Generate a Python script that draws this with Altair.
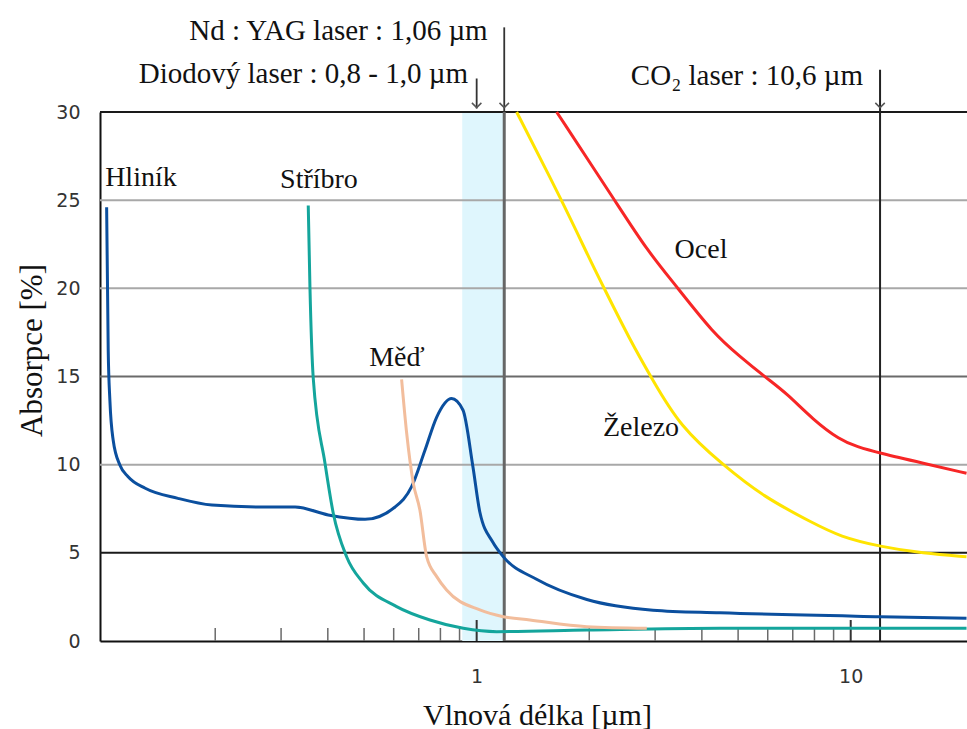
import altair as alt
import pandas as pd

# ---------------- data ----------------
hlinik_x = [0.1025, 0.1035, 0.1046, 0.1067, 0.1112, 0.117, 0.130, 0.159, 0.196, 0.266, 0.327,
            0.401, 0.503, 0.605, 0.670, 0.727, 0.782, 0.857, 0.919, 0.977, 1.02, 1.105,
            1.176, 1.446, 1.97, 2.96, 4.47, 11.98, 20.4]
hlinik_y = [24.6, 16.5, 13.6, 11.4, 9.98, 9.32, 8.66, 8.09, 7.71, 7.6, 7.6,
            7.15, 6.9, 7.6, 8.75, 10.8, 12.7, 13.75, 13.1, 9.9, 7.3, 5.6,
            4.8, 3.5, 2.35, 1.75, 1.6, 1.38, 1.29]

stribro_x = [0.3546, 0.3583, 0.3657, 0.393, 0.4135, 0.449, 0.4975, 0.611, 0.750, 0.921,
             1.131, 1.97, 4.47, 20.4]
stribro_y = [24.7, 20.1, 14.9, 10.1, 7.26, 4.78, 3.29, 1.95, 1.19, 0.72,
             0.53, 0.62, 0.72, 0.72]

med_x = [0.630, 0.650, 0.677, 0.705, 0.735, 0.782, 0.831, 1.02, 1.178, 1.388, 1.97, 2.85]
med_y = [14.84, 11.78, 8.95, 7.43, 4.78, 3.65, 2.89, 1.76, 1.38, 1.19, 0.81, 0.72]

zelezo_x = [1.279, 1.704, 2.009, 2.18, 2.57, 2.937, 3.497, 4.56, 5.84, 7.94, 9.36, 11.98, 15.63, 20.4]
zelezo_y = [30.0, 24.83, 21.61, 20.1, 17.07, 14.9, 12.16, 9.98, 8.18, 6.68, 5.92, 5.35, 4.97, 4.78]

ocel_x = [1.636, 2.367, 2.848, 3.426, 4.29, 5.06, 5.96, 6.74, 7.94, 9.36, 10.38, 11.98, 15.63, 20.4]
ocel_y = [30.0, 24.83, 22.18, 20.1, 17.45, 16.13, 14.9, 14.05, 12.54, 11.4, 11.02, 10.65, 10.08, 9.51]

series_names = ["Hliník", "Stříbro", "Měď", "Železo", "Ocel"]
series_colors = ["#0b4f9e", "#14a59c", "#f2bd9c", "#ffe400", "#f72626"]

label_x = [0.1266, 0.3788, 0.612, 2.75, 3.98]
label_y = [26.26, 26.15, 16.05, 12.08, 22.18]

minor_ticks = [0.2, 0.3, 0.4, 0.5, 0.6, 0.7, 0.8, 0.9, 2, 3, 4, 5, 6, 7, 8, 9]
major_ticks = [1, 10]

grid_dark = [5, 30]
grid_mid = [15]
grid_light = [10, 20, 25]

band_from, band_to = 0.915, 1.18          # shaded diode-laser band
yag_x, co2_x, diode_x = 1.185, 11.98, 1.0  # laser marker lines
yag_top, co2_top, diode_top = 34.8, 32.4, 31.9

laser_texts = ["Nd : YAG laser : 1,06 µm", "Diodový laser : 0,8 - 1,0 µm", "CO₂ laser : 10,6 µm"]
laser_text_x = [1.07, 0.948, 10.79]
laser_text_y = [34.6, 32.16, 32.05]

# ---------------- build ----------------
W, H = 867, 529
xs = alt.Scale(type="log", domain=[0.0984, 20.46], nice=False)
ys = alt.Scale(domain=[0, 30], nice=False, zero=True)

x_axis = alt.Axis(values=major_ticks, format="~g", grid=False, ticks=False, tickSize=0,
                  domainColor="#111", domainWidth=2, labelFont="DejaVu Sans",
                  labelFontSize=19, labelColor="#333", labelPadding=26,
                  title="Vlnová délka [µm]", titleFont="Liberation Serif", titleFontSize=30,
                  titleFontWeight="normal", titleColor="#111", titleX=437, titleY=74,
                  titleAlign="center", titleBaseline="middle")
y_axis = alt.Axis(values=[0, 5, 10, 15, 20, 25, 30], grid=False, ticks=False, tickSize=0,
                  domainColor="#111", domainWidth=2, labelFont="DejaVu Sans",
                  labelFontSize=19, labelColor="#333", labelPadding=20,
                  title="Absorpce [%]", titleFont="Liberation Serif", titleFontSize=31,
                  titleFontWeight="normal", titleColor="#111", titleX=-68, titleY=238,
                  titleAngle=270, titleAlign="center", titleBaseline="middle")


def frame(name, xv, yv):
    return pd.DataFrame({"kov": name, "x": xv, "y": yv, "i": range(len(xv))})


sharp_df = pd.concat([frame("Hliník", hlinik_x, hlinik_y), frame("Stříbro", stribro_x, stribro_y),
                      frame("Měď", med_x, med_y)])
smooth_df = pd.concat([frame("Železo", zelezo_x, zelezo_y), frame("Ocel", ocel_x, ocel_y)])

color_enc = alt.Color("kov:N", scale=alt.Scale(domain=series_names, range=series_colors), legend=None)

band = alt.Chart(pd.DataFrame({"x": [band_from], "x2": [band_to], "y": [0], "y2": [30]})).mark_rect(
    color="#dff6fd").encode(
    x=alt.X("x:Q", scale=xs, axis=x_axis), x2="x2:Q",
    y=alt.Y("y:Q", scale=ys, axis=y_axis), y2="y2:Q")


def grid(vals, color, w):
    return alt.Chart(pd.DataFrame({"y": vals})).mark_rule(color=color, strokeWidth=w).encode(
        y=alt.Y("y:Q", scale=ys, axis=y_axis))


grids = [grid(grid_light, "#a8a8a8", 2), grid(grid_mid, "#6a6a6a", 2), grid(grid_dark, "#1a1a1a", 2)]

minor = alt.Chart(pd.DataFrame({"x": minor_ticks})).mark_rule(color="#6a6a6a", strokeWidth=1.5).encode(
    x=alt.X("x:Q", scale=xs, axis=x_axis), y=alt.value(H), y2=alt.value(H - 13))
major = alt.Chart(pd.DataFrame({"x": major_ticks})).mark_rule(color="#333", strokeWidth=2).encode(
    x=alt.X("x:Q", scale=xs, axis=x_axis), y=alt.value(H), y2=alt.value(H - 21))

vlines = alt.Chart(pd.DataFrame({"x": [yag_x], "y": [0], "y2": [30]})).mark_rule(
    color="#666", strokeWidth=3).encode(
    x=alt.X("x:Q", scale=xs, axis=x_axis), y=alt.Y("y:Q", scale=ys, axis=y_axis), y2="y2:Q")
co2line = alt.Chart(pd.DataFrame({"x": [co2_x], "y": [0], "y2": [co2_top]})).mark_rule(
    color="#222", strokeWidth=2).encode(
    x=alt.X("x:Q", scale=xs, axis=x_axis), y=alt.Y("y:Q", scale=ys, axis=y_axis), y2="y2:Q")
upper = alt.Chart(pd.DataFrame({"x": [yag_x, diode_x], "y": [30, 30.2], "y2": [yag_top, diode_top]})).mark_rule(
    color="#333", strokeWidth=1.8).encode(
    x=alt.X("x:Q", scale=xs, axis=x_axis), y=alt.Y("y:Q", scale=ys, axis=y_axis), y2="y2:Q")
heads = alt.Chart(pd.DataFrame({"x": [diode_x, yag_x, co2_x], "y": [30.25, 30.25, 30.25]})).mark_point(
    shape="M-1,-1L0,0L1,-1", filled=False, size=90, strokeWidth=1.5, color="#555", opacity=1).encode(
    x=alt.X("x:Q", scale=xs, axis=x_axis), y=alt.Y("y:Q", scale=ys, axis=y_axis))

curves_sharp = alt.Chart(sharp_df).mark_line(strokeWidth=3, interpolate="monotone").encode(
    x=alt.X("x:Q", scale=xs, axis=x_axis), y=alt.Y("y:Q", scale=ys, axis=y_axis),
    color=color_enc, order="i:Q")
curves_smooth = alt.Chart(smooth_df).mark_line(strokeWidth=3, interpolate="basis").encode(
    x=alt.X("x:Q", scale=xs, axis=x_axis), y=alt.Y("y:Q", scale=ys, axis=y_axis),
    color=color_enc, order="i:Q")

labels = alt.Chart(pd.DataFrame({"t": series_names, "x": label_x, "y": label_y})).mark_text(
    font="Liberation Serif", fontSize=28, color="#111", align="center", baseline="middle").encode(
    x=alt.X("x:Q", scale=xs, axis=x_axis), y=alt.Y("y:Q", scale=ys, axis=y_axis), text="t:N")

ltexts = alt.Chart(pd.DataFrame({"t": laser_texts, "x": laser_text_x, "y": laser_text_y})).mark_text(
    font="Liberation Serif", fontSize=29, color="#111", align="right", baseline="middle").encode(
    x=alt.X("x:Q", scale=xs, axis=x_axis), y=alt.Y("y:Q", scale=ys, axis=y_axis), text="t:N")

chart = alt.layer(band, *grids, minor, major, vlines, co2line, upper, heads,
                  curves_smooth, curves_sharp, labels, ltexts).properties(
    width=W, height=H,
    autosize=alt.AutoSizeParams(type="none"),
    padding={"left": 100, "top": 112, "right": 0, "bottom": 88},
    background="white",
).configure_view(stroke=None)

chart.save("out.html", embed_options={"renderer": "svg", "actions": False})
